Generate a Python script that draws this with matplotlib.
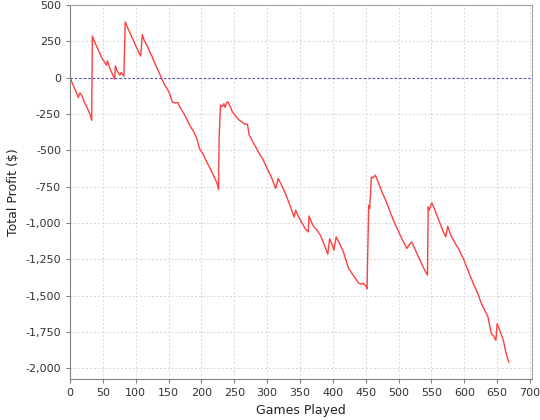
import matplotlib.pyplot as plt
from matplotlib.ticker import FuncFormatter, MultipleLocator

# vertices (game number, cumulative profit)
games = [0, 1, 5, 9, 12.6, 15, 17.7, 22, 27, 31, 33, 34, 38, 43, 48, 52, 55.6, 57, 60, 64, 68,
         69, 72, 76, 78, 82, 84, 88, 93, 98, 103, 107.6, 110, 113, 118, 121, 124.7, 128,
         133, 139, 144, 149, 151.5, 155.6, 160, 164, 168, 175, 182, 188, 193, 197, 203,
         208, 212, 217, 224, 226, 227, 229, 232, 234, 236, 238, 240, 244, 247, 252, 257.6,
         260, 263, 266, 270, 272.7, 278, 284, 288, 293, 300, 306, 313, 316.7, 322, 328,
         334, 341, 343.5, 348, 353, 358, 362.6, 363.6, 368, 371, 376, 381, 386, 392.4, 395,
         399, 401.5, 405, 410, 416, 424, 431, 439, 442, 446, 450.5, 452, 454.5, 456, 458.6,
         461, 464.6, 469, 474.7, 480, 486, 492, 498, 505, 512.6, 516, 520, 524, 527.8,
         533, 538, 544, 545, 546.5, 550.5, 556, 562, 567, 571.7, 574.7, 580, 586, 591,
         598.5, 605, 613.6, 620, 626, 631, 636, 641, 645, 648, 650, 654, 657.6, 660,
         662.6, 665, 667.7]
profit = [0, -10, -55, -95, -137, -105, -120, -170, -215, -260, -293, 286, 240, 190, 140,
          110, 86, 116, 70, 30, -10, 81, 45, 17, 36, 10, 384, 340, 290, 240, 190, 148, 297,
          255, 215, 180, 148, 110, 60, -1, -50, -86, -110, -166, -175, -171, -210, -260,
          -327, -370, -420, -488, -530, -580, -614, -660, -730, -770, -403, -189, -200,
          -180, -205, -175, -166, -200, -235, -265, -293, -300, -310, -320, -320, -396,
          -440, -490, -522, -557, -625, -680, -763, -694, -740, -800, -870, -959, -912,
          -960, -1000, -1040, -1062, -952, -1000, -1027, -1050, -1085, -1140, -1215, -1108,
          -1150, -1188, -1096, -1140, -1200, -1314, -1360, -1413, -1420, -1415, -1436,
          -1452, -878, -901, -683, -690, -671, -720, -786, -840, -910, -981, -1040, -1110,
          -1176, -1150, -1131, -1170, -1211, -1260, -1310, -1360, -890, -913, -862, -920,
          -990, -1050, -1096, -1023, -1090, -1140, -1176, -1245, -1320, -1417, -1480,
          -1555, -1600, -1647, -1762, -1780, -1808, -1693, -1740, -1785, -1820, -1877,
          -1920, -1957]

plt.rcParams['axes.unicode_minus'] = False

fig = plt.figure(figsize=(5.4, 4.2), dpi=100)
ax = fig.add_axes([70 / 540, 1 - 379 / 420, 462 / 540, 374 / 420])

ax.plot(games, profit, color="#ff4040", linewidth=1.0)
ax.axhline(0, color="#4848c8", linewidth=0.8, linestyle=(0, (2, 2)))

ax.set_xlim(0, 703)
ax.set_ylim(-2074, 500)
ax.xaxis.set_major_locator(MultipleLocator(50))
ax.yaxis.set_major_locator(MultipleLocator(250))
ax.yaxis.set_major_formatter(FuncFormatter(lambda v, p: f"{v:,.0f}"))

ax.grid(True, color="#d8d8d8", linestyle=(0, (2, 2)), linewidth=0.7)
ax.set_axisbelow(True)
for s in ax.spines.values():
    s.set_color("#a0a0a0")
    s.set_linewidth(0.8)
ax.spines["left"].set_color("#808080")
ax.spines["bottom"].set_color("#808080")
ax.tick_params(colors="#808080", labelcolor="#333333", labelsize=8, length=3, width=0.8)

ax.set_xlabel("Games Played", fontsize=9, color="#222222", labelpad=4)
ax.set_ylabel("Total Profit ($)", fontsize=9, color="#222222", labelpad=4)

fig.savefig("out.png", dpi=100)
